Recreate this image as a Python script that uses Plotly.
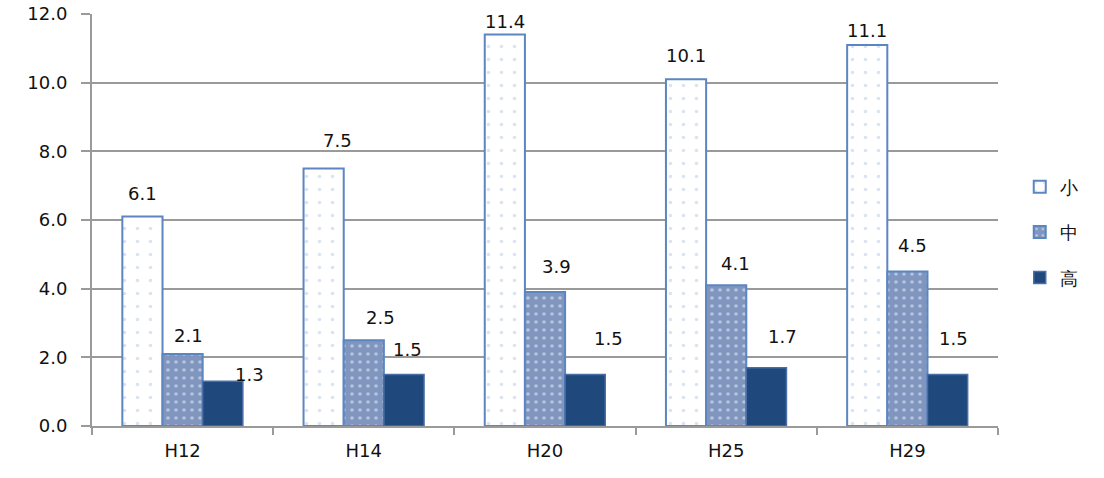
import plotly.graph_objects as go

# Survey years (Heisei era) and the three groups
years = ["H12", "H14", "H20", "H25", "H29"]
small = [6.1, 7.5, 11.4, 10.1, 11.1]   # 小
middle = [2.1, 2.5, 3.9, 4.1, 4.5]     # 中
high = [1.3, 1.5, 1.5, 1.7, 1.5]       # 高

series_names = ["小", "中", "高"]
series_values = [small, middle, high]

FONT = "DejaVu Sans"
TEXT_COLOR = "#111111"
GRID = "#9a9a9a"

# Label placement tweaks (pixels): horizontal nudge and lift above bar top
label_dx = [
    [0, 6, 27],
    [14, 17, 4],
    [0, 11, 23],
    [0, 9, 16],
    [0, 5, 6],
]
label_dy = [
    [23, 18, 7],
    [28, 23, 25],
    [13, 26, 36],
    [24, 22, 31],
    [14, 26, 36],
]

styles = [
    dict(color="white",
         line=dict(color="#5b86c2", width=2),
         pattern=dict(shape=".", bgcolor="white", fgcolor="#b3c7e6",
                      size=13, solidity=0.06, fillmode="overlay")),
    dict(color="#8096bf",
         line=dict(color="#5b86c2", width=2),
         pattern=dict(shape=".", bgcolor="#8096bf", fgcolor="#eef2f9",
                      size=8, solidity=0.16, fillmode="overlay")),
    dict(color="#1f497d",
         line=dict(color="#4a6ea6", width=1.5)),
]

fig = go.Figure()
for i, (name, vals) in enumerate(zip(series_names, series_values)):
    fig.add_trace(go.Bar(
        x=years, y=vals, name=name, marker=styles[i],
        legendgroup=name,
    ))

bar_px = 906 / len(years) * (1 - 0.335) / 3
annotations = []
for j, yr in enumerate(years):
    for i, vals in enumerate(series_values):
        annotations.append(dict(
            x=yr, y=vals[j], xref="x", yref="y",
            text=f"{vals[j]:.1f}", showarrow=False,
            xanchor="center", yanchor="middle",
            xshift=(i - 1) * bar_px + label_dx[j][i],
            yshift=label_dy[j][i],
            font=dict(family=FONT, size=18, color=TEXT_COLOR),
        ))

fig.update_layout(
    width=1104, height=478,
    margin=dict(l=92, r=106, t=14, b=52, autoexpand=False),
    paper_bgcolor="white", plot_bgcolor="white",
    barmode="group", bargap=0.335, bargroupgap=0,
    font=dict(family=FONT, size=18, color=TEXT_COLOR),
    annotations=annotations,
    showlegend=True,
    legend=dict(
        x=1.024, xanchor="left", y=0.625, yanchor="top",
        font=dict(family=FONT, size=18, color=TEXT_COLOR),
        tracegroupgap=19, bgcolor="rgba(0,0,0,0)",
    ),
    xaxis=dict(
        automargin=False,
        showline=True, linecolor=GRID, linewidth=2,
        ticks="outside", tickson="boundaries", ticklen=7,
        tickcolor=GRID, tickwidth=2,
        tickfont=dict(family=FONT, size=18, color=TEXT_COLOR),
        ticklabelstandoff=7,
    ),
    yaxis=dict(
        automargin=False,
        range=[0, 12], dtick=2, tickformat=".1f",
        showline=True, linecolor=GRID, linewidth=2,
        showgrid=True, gridcolor=GRID, gridwidth=2,
        ticks="outside", ticklen=9, tickcolor=GRID, tickwidth=2,
        tickfont=dict(family=FONT, size=18, color=TEXT_COLOR),
        ticklabelstandoff=10, zeroline=False,
    ),
)

fig.write_html("out.html")
